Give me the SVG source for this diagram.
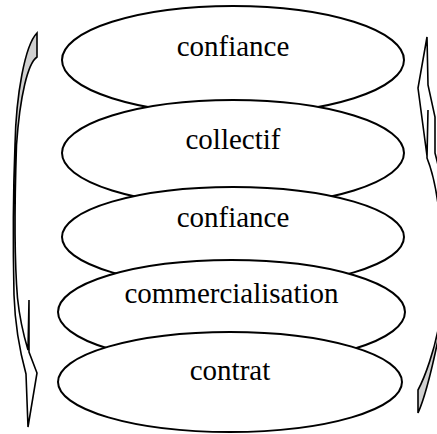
<svg xmlns="http://www.w3.org/2000/svg" width="437" height="434" viewBox="0 0 437 434">
<style>
.node ellipse{fill:#fff;stroke:#000;stroke-width:2}
.node text{font-family:"Liberation Serif","Times New Roman",serif;font-size:29px;fill:#000;text-anchor:middle}
.arw{fill:none;stroke:#000;stroke-width:1.6;stroke-linejoin:miter}
.tail{fill:#d0d0d0;stroke:none}
</style>
<rect width="437" height="434" fill="#fff"/>
<g id="connectors">
  <g id="arrow-left">
    <path class="tail" d="M37,33 L37,57 C28,63 20,95 16.5,145 L15,145 C16,95 25,45 37,33 Z"/>
    <path class="arw" d="M37,33 L37,57 C28,63 20,95 16.5,145 C14.5,205 14.5,262 17.5,298 C20,322 25,340 28,350 L29,300 L29,352 L37,373 L28,427 L26,374 C20,352 15,325 14,295 C13,250 13,195 15,145 C16,95 25,45 37,33 Z"/>
  </g>
  <g id="arrow-right">
    <path class="tail" d="M418,413 L418,390 C426,375 434,350 438,330 L440,330 C434,360 426,395 418,413 Z"/>
    <path class="arw" d="M427,37 L428,85 L435,117 L435,153 C445,190 455,260 440,330 C434,360 426,395 418,413 L418,390 C426,375 434,350 438,330 C448,270 440,190 427,158 L428,110 L427,156 L418,88 Z"/>
  </g>
</g>
<g id="node1" class="node"><ellipse cx="233" cy="60" rx="171" ry="54"/><text x="233" y="56">confiance</text></g>
<g id="node2" class="node"><ellipse cx="233" cy="153" rx="171" ry="53"/><text x="233" y="149">collectif</text></g>
<g id="node3" class="node"><ellipse cx="233" cy="237" rx="171" ry="50"/><text x="233" y="227">confiance</text></g>
<g id="node4" class="node"><ellipse cx="231.5" cy="312" rx="173.5" ry="52"/><text x="231.5" y="303">commercialisation</text></g>
<g id="node5" class="node"><ellipse cx="230" cy="382" rx="172" ry="50"/><text x="230" y="380">contrat</text></g>
</svg>
